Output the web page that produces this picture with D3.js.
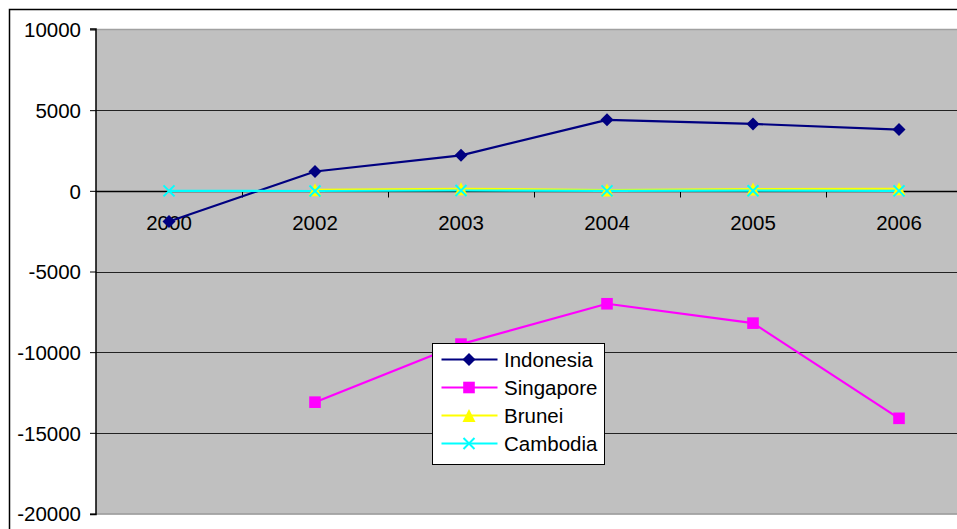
<!DOCTYPE html>
<html>
<head>
<meta charset="utf-8">
<script src="https://cdn.jsdelivr.net/npm/d3@7"></script>
<style>
html,body{margin:0;padding:0;background:#fff;overflow:hidden;}
text{font-family:"Liberation Sans",Arial,sans-serif;}
</style>
</head>
<body>
<svg id="chart" width="957" height="529"></svg>
<script>
const categories = ["2000","2002","2003","2004","2005","2006"];
const indonesia = [-1900, 1200, 2200, 4400, 4150, 3800];
const singapore = [null, -13100, -9500, -7000, -8200, -14100];
const brunei = [null, 60, 130, 50, 110, 130];
const cambodia = [0, -10, 20, 0, 10, 0];
const yTicks = [-20000, -15000, -10000, -5000, 0, 5000, 10000];

const seriesList = [
  {name:"Indonesia", values:indonesia, color:"#000080", marker:"diamond"},
  {name:"Singapore", values:singapore, color:"#FF00FF", marker:"square"},
  {name:"Brunei", values:brunei, color:"#FFFF00", marker:"triangle"},
  {name:"Cambodia", values:cambodia, color:"#00FFFF", marker:"x"}
];

const svg = d3.select("#chart");
const W = 957, H = 529;
const plot = {left:96, right:972, top:29, bottom:513.5};

svg.append("rect").attr("x",0).attr("y",0).attr("width",W).attr("height",H).attr("fill","#fff");
// outer chart border
svg.append("rect").attr("x",9.5).attr("y",9.5).attr("width",1000).attr("height",600)
  .attr("fill","#fff").attr("stroke","#000").attr("stroke-width",1.5);

const x = d3.scaleBand().domain(categories).range([plot.left, plot.right]).padding(0);
const y = d3.scaleLinear().domain([-20000, 10000]).range([plot.bottom, plot.top + 0.5]);
const cx = c => x(c) + x.bandwidth()/2;

// plot area
svg.append("rect").attr("x",plot.left).attr("y",plot.top).attr("width",plot.right-plot.left)
  .attr("height",plot.bottom-plot.top).attr("fill","#C0C0C0");
svg.append("line").attr("x1",plot.left).attr("x2",plot.right).attr("y1",plot.top+0.5).attr("y2",plot.top+0.5)
  .attr("stroke","#a0a0a0").attr("stroke-width",1.5);
svg.append("line").attr("x1",plot.left).attr("x2",plot.right).attr("y1",plot.bottom+0.5).attr("y2",plot.bottom+0.5)
  .attr("stroke","#909090").attr("stroke-width",1.5);

// gridlines
svg.append("g").selectAll("line").data(yTicks.filter(t => t !== 0 && t !== 10000 && t !== -20000)).join("line")
  .attr("x1",plot.left).attr("x2",plot.right)
  .attr("y1",d => Math.round(y(d))+0.5).attr("y2",d => Math.round(y(d))+0.5)
  .attr("stroke","#222").attr("stroke-width",1);

// y axis
const yAxis = d3.axisLeft(y).tickValues(yTicks).tickSize(6).tickPadding(9).tickFormat(d => String(d));
const gy = svg.append("g").attr("transform",`translate(${plot.left},0)`).call(yAxis);
gy.select(".domain").attr("stroke","#000").attr("stroke-width",1.5).attr("d",`M-6,${plot.top}H0V${plot.bottom+1}H-6`);
gy.selectAll(".tick line").attr("stroke","#000");
gy.selectAll("text").attr("font-size","20.5px").attr("fill","#000").attr("dy","0.36em")
  .attr("font-family",'"Liberation Sans",Arial,sans-serif');

// x axis at zero
const y0 = Math.round(y(0)) + 0.5;
svg.append("line").attr("x1",plot.left).attr("x2",plot.right).attr("y1",y0).attr("y2",y0)
  .attr("stroke","#000").attr("stroke-width",1.3);
const gx = svg.append("g");
gx.selectAll("line.tk").data(categories.slice(1)).join("line").attr("class","tk")
  .attr("x1",d => Math.round(x(d))+0.5).attr("x2",d => Math.round(x(d))+0.5)
  .attr("y1",y0).attr("y2",y0+6).attr("stroke","#000").attr("stroke-width",1);
gx.selectAll("text").data(categories).join("text")
  .attr("x",d => cx(d)).attr("y",230).attr("text-anchor","middle")
  .attr("font-size","20.5px").attr("fill","#000").text(d => d);

// marker drawer
function drawMarker(g, type, color, px, py) {
  if (type === "diamond") {
    const r = 6.5;
    g.append("path").attr("d",`M${px},${py-r}L${px+r},${py}L${px},${py+r}L${px-r},${py}Z`).attr("fill",color);
  } else if (type === "square") {
    const r = 5.8;
    g.append("rect").attr("x",px-r).attr("y",py-r).attr("width",2*r).attr("height",2*r).attr("fill",color);
  } else if (type === "triangle") {
    const r = 6.5;
    g.append("path").attr("d",`M${px},${py-r}L${px+r},${py+r}L${px-r},${py+r}Z`).attr("fill",color);
  } else if (type === "x") {
    const r = 5.5;
    g.append("path").attr("d",`M${px-r},${py-r}L${px+r},${py+r}M${px+r},${py-r}L${px-r},${py+r}`)
      .attr("stroke",color).attr("stroke-width",2).attr("fill","none");
  }
}

// series
seriesList.forEach(s => {
  const pts = categories.map((c,i) => ({c, v:s.values[i]}));
  const line = d3.line().defined(d => d.v !== null).x(d => cx(d.c)).y(d => y(d.v));
  svg.append("path").datum(pts).attr("d",line).attr("fill","none")
    .attr("stroke",s.color).attr("stroke-width",2.2).attr("stroke-linejoin","round");
});
seriesList.forEach(s => {
  const g = svg.append("g");
  categories.forEach((c,i) => {
    if (s.values[i] !== null) drawMarker(g, s.marker, s.color, cx(c), y(s.values[i]));
  });
});

// legend
const lg = svg.append("g");
lg.append("rect").attr("x",432.5).attr("y",343.5).attr("width",172).attr("height",121)
  .attr("fill","#fff").attr("stroke","#000").attr("stroke-width",1);
const rowY = [359.5, 387.5, 415.5, 443.5];
seriesList.forEach((s,i) => {
  const ry = rowY[i];
  lg.append("line").attr("x1",441.5).attr("x2",497.5).attr("y1",ry).attr("y2",ry)
    .attr("stroke",s.color).attr("stroke-width",2.2);
  drawMarker(lg, s.marker, s.color, 469, ry);
  lg.append("text").attr("x",504).attr("y",ry).attr("dy","0.36em")
    .attr("font-size","20.5px").attr("fill","#000").text(s.name);
});
</script>
</body>
</html>
